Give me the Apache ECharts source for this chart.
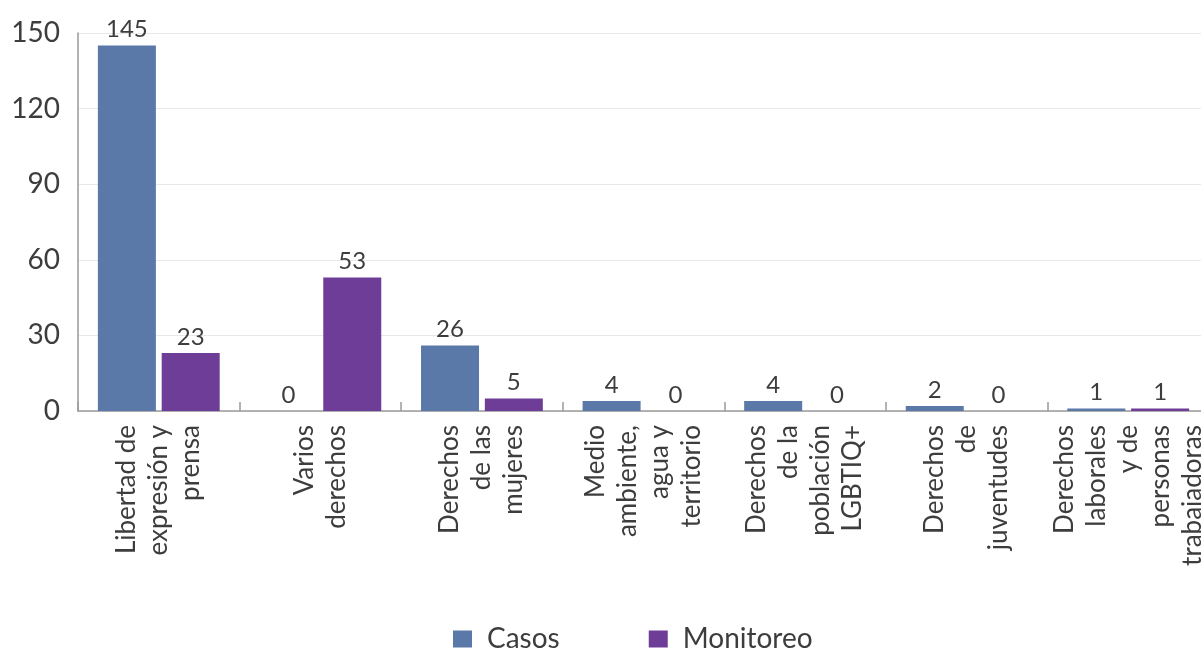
<!DOCTYPE html>
<html>
<head>
<meta charset="utf-8">
<script src="https://cdn.jsdelivr.net/npm/echarts@6/dist/echarts.min.js"></script>
<style>
  html, body { margin: 0; padding: 0; background: #ffffff; }
  #chart { width: 1201px; height: 648px; }
</style>
</head>
<body>
<div id="chart"></div>
<script>
// Categories (rights themes), with manual line breaks for the vertical labels
const categories = [
  'Libertad de\nexpresión y\nprensa',
  'Varios\nderechos',
  'Derechos\nde las\nmujeres',
  'Medio\nambiente,\nagua y\nterritorio',
  'Derechos\nde la\npoblación\nLGBTIQ+',
  'Derechos\nde\njuventudes',
  'Derechos\nlaborales\ny de\npersonas\ntrabajadoras'
];
const casos = [145, 0, 26, 4, 4, 2, 1];
const monitoreo = [23, 53, 5, 0, 0, 0, 1];
const yTicks = { min: 0, max: 150, interval: 30 };

const FONT = 'Lato, "Open Sans", sans-serif';
const TEXT = '#3d3d3d';

const chart = echarts.init(document.getElementById('chart'), null, { renderer: 'canvas' });

const valueLabel = {
  show: true,
  position: 'top',
  distance: 4,
  color: TEXT,
  fontFamily: FONT,
  fontSize: 24
};

chart.setOption({
  animation: false,
  backgroundColor: '#ffffff',
  // the plot runs past the right edge, so the last category is cut off
  grid: {
    left: 78, top: 33, width: 1131, height: 378,
    containLabel: false,
    outerBoundsMode: 'none'
  },
  legend: {
    top: 620,
    left: 448,
    itemWidth: 19,
    itemHeight: 17,
    itemGap: 89,
    icon: 'rect',
    textStyle: { color: TEXT, fontFamily: FONT, fontSize: 28, padding: [0, 0, 0, 10] },
    data: ['Casos', 'Monitoreo']
  },
  xAxis: {
    type: 'category',
    data: categories,
    axisLine: { show: true, lineStyle: { color: '#9a9a9a', width: 1.5 } },
    axisTick: { show: true, inside: true, length: 9, lineStyle: { color: '#9a9a9a', width: 1.5 } },
    axisLabel: {
      rotate: 90,
      interval: 0,
      margin: 14,
      color: TEXT,
      fontFamily: FONT,
      fontSize: 26,
      lineHeight: 32
    }
  },
  yAxis: {
    type: 'value',
    min: yTicks.min,
    max: yTicks.max,
    interval: yTicks.interval,
    axisLine: { show: true, lineStyle: { color: '#9a9a9a', width: 1.5 } },
    axisTick: { show: false },
    axisLabel: { color: TEXT, fontFamily: FONT, fontSize: 28, margin: 18 },
    splitLine: { lineStyle: { color: '#e8e8e8', width: 1 } }
  },
  series: [
    {
      name: 'Casos',
      type: 'bar',
      data: casos,
      barWidth: 58,
      barGap: '10%',
      itemStyle: { color: '#5a78a8' },
      label: valueLabel
    },
    {
      name: 'Monitoreo',
      type: 'bar',
      data: monitoreo,
      barWidth: 58,
      barGap: '10%',
      itemStyle: { color: '#6e3d98' },
      label: valueLabel
    }
  ]
});
</script>
</body>
</html>
